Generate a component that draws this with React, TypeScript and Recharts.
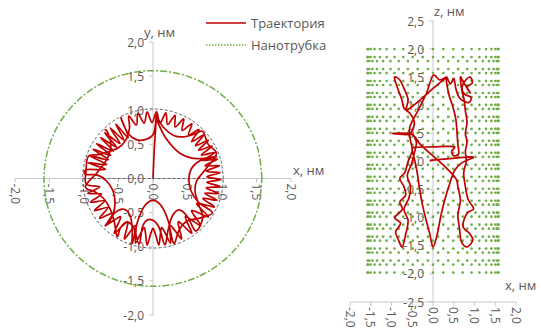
import React from "react";
import { ScatterChart, Scatter, XAxis, YAxis } from "recharts";

// tick values of the three axes
const xyTicks = [-2, -1.5, -1, -0.5, 0, 0.5, 1, 1.5, 2];
const xzTicks = [-2, -1.5, -1, -0.5, 0, 0.5, 1, 1.5, 2];
const zTicks = [-2.5, -2, -1.5, -1, -0.5, 0, 0.5, 1, 1.5, 2, 2.5];

// nanotube wall (xy projection)
const tubeCircle: [number, number][] = [
  [1.58, 0], [1.526, 0.409], [1.368, 0.79], [1.117, 1.117], [0.79, 1.368], [0.409, 1.526],
  [0, 1.58], [-0.409, 1.526], [-0.79, 1.368], [-1.117, 1.117], [-1.368, 0.79], [-1.526, 0.409],
  [-1.58, 0], [-1.526, -0.409], [-1.368, -0.79], [-1.117, -1.117], [-0.79, -1.368], [-0.409, -1.526],
  [0, -1.58], [0.409, -1.526], [0.79, -1.368], [1.117, -1.117], [1.368, -0.79], [1.526, -0.409], [1.58, 0],
];

// grey dashed circle + diameter
const innerCircle: [number, number][] = [
  [1.02, 0], [0.985, 0.264], [0.883, 0.51], [0.721, 0.721], [0.51, 0.883], [0.264, 0.985],
  [0, 1.02], [-0.264, 0.985], [-0.51, 0.883], [-0.721, 0.721], [-0.883, 0.51], [-0.985, 0.264],
  [-1.02, 0], [-0.985, -0.264], [-0.883, -0.51], [-0.721, -0.721], [-0.51, -0.883], [-0.264, -0.985],
  [0, -1.02], [0.264, -0.985], [0.51, -0.883], [0.721, -0.721], [0.883, -0.51], [0.985, -0.264], [1.02, 0],
];
const innerDiameter: [number, number][] = [[-1.02, 0], [1.02, 0]];

// trajectory, xy projection
const xyPath: [number, number][] = [
  [0, 0], [0.02, 0.45], [0.05, 0.92],
  [0.03, 0.75], [0, 0.64], [-0.08, 0.58], [-0.2, 0.56], [-0.3, 0.6], [-0.38, 0.69], [-0.44, 0.82], [-0.46, 0.88],
  [-0.36, 0.6], [-0.54, 0.8], [-0.42, 0.56], [-0.62, 0.74], [-0.477, 0.512], [-0.7, 0.67], [-0.529, 0.46],
  [-0.76, 0.6], [-0.573, 0.402], [-0.82, 0.51], [-0.613, 0.34], [-0.87, 0.43], [-0.645, 0.274], [-0.91, 0.33],
  [-0.67, 0.204], [-0.94, 0.23], [-0.687, 0.134], [-0.96, 0.13], [-0.98, 0.06],
  [-0.8, 0.05], [-0.67, -0.04], [-0.58, -0.18], [-0.55, -0.36], [-0.58, -0.53], [-0.64, -0.64], [-0.69, -0.69],
  [-0.554, -0.604], [-0.469, -0.559], [-0.499, -0.65], [-0.563, -0.803], [-0.44, -0.691], [-0.365, -0.632],
  [-0.379, -0.727], [-0.415, -0.888], [-0.314, -0.758], [-0.25, -0.686], [-0.247, -0.782], [-0.254, -0.947],
  [-0.177, -0.8], [-0.127, -0.719], [-0.107, -0.813], [-0.085, -0.976], [-0.036, -0.819], [0, -0.73],
  [0.036, -0.819], [0.085, -0.976], [0.107, -0.813], [0.127, -0.719], [0.177, -0.8], [0.254, -0.947],
  [0.247, -0.782], [0.25, -0.686], [0.314, -0.758], [0.415, -0.888], [0.379, -0.727], [0.365, -0.632],
  [0.44, -0.691], [0.563, -0.803], [0.499, -0.65], [0.469, -0.559], [0.554, -0.604], [0.693, -0.693],
  [0.604, -0.554], [0.559, -0.469], [0.65, -0.499], [0.803, -0.563], [0.691, -0.44], [0.632, -0.365],
  [0.727, -0.379], [0.888, -0.415],
  [0.72, -0.29], [0.927, -0.319], [0.75, -0.215], [0.955, -0.22], [0.77, -0.136], [0.973, -0.119],
  [0.78, -0.055], [0.98, -0.017], [0.78, 0.027], [0.976, 0.085], [0.77, 0.108], [0.962, 0.187],
  [0.755, 0.188], [0.937, 0.286], [0.73, 0.266], [0.902, 0.383], [0.7, 0.342], [0.857, 0.475],
  [0.66, 0.413], [0.803, 0.562], [0.615, 0.481], [0.74, 0.643], [0.56, 0.54], [0.668, 0.716],
  [0.516, 0.637], [0.563, 0.803], [0.422, 0.703], [0.445, 0.873], [0.321, 0.755], [0.319, 0.927],
  [0.212, 0.792], [0.187, 0.962], [0.1, 0.814], [0.051, 0.979], [-0.014, 0.82], [-0.085, 0.976],
  [-0.128, 0.81], [-0.22, 0.955], [-0.24, 0.784], [-0.351, 0.915],
  [-0.34, 0.74], [-0.39, 0.57], [-0.5, 0.45], [-0.65, 0.39], [-0.8, 0.35], [-0.94, 0.32], [-0.97, 0.12],
  [-0.966, -0.085], [-0.771, -0.122], [-0.945, -0.218], [-0.746, -0.228], [-0.906, -0.347], [-0.707, -0.33],
  [-0.849, -0.47], [-0.654, -0.425], [-0.775, -0.584], [-0.589, -0.512], [-0.686, -0.686],
  [-0.55, -0.5], [-0.42, -0.45], [-0.33, -0.55], [-0.3, -0.75], [-0.3, -0.95],
  [-0.22, -0.62], [-0.12, -0.4], [0, -0.32], [0.12, -0.4], [0.22, -0.62], [0.3, -0.95],
  [0.38, -0.75], [0.5, -0.62], [0.68, -0.58], [0.86, -0.5],
  [0.66, -0.35], [0.55, -0.18], [0.52, 0], [0.56, 0.15], [0.68, 0.26], [0.92, 0.32],
  [0.63, 0.29], [0.39, 0.37], [0.2, 0.57], [0.08, 0.8], [0.05, 0.92],
  [0.15, 0.75], [0.3, 0.63], [0.45, 0.61], [0.6, 0.65], [0.72, 0.69],
  [0.8, 0.5], [0.92, 0.36], [0.75, 0.12], [0.63, -0.04], [0.61, -0.2], [0.67, -0.4], [0.72, -0.58], [0.62, -0.77],
  [0.5, -0.56], [0.38, -0.46], [0.28, -0.55], [0.22, -0.75], [0.17, -0.97],
  [0.08, -0.7], [-0.05, -0.6], [-0.15, -0.7], [-0.2, -0.96],
  [-0.28, -0.72], [-0.38, -0.64], [-0.47, -0.72], [-0.52, -0.85],
  [-0.56, -0.64], [-0.62, -0.45], [-0.71, -0.3], [-0.83, -0.2], [-0.98, -0.12],
  [-0.8, 0.1], [-0.66, 0.3], [-0.61, 0.5], [-0.66, 0.68], [-0.7, 0.72],
];

// trajectory, xz projection
const xzPath: [number, number][] = [
  [-0.08, 0.02], [0.4, 0.05], [0.97, 0.08],
  [0.7, -0.02], [0.52, -0.16], [0.4, -0.4], [0.28, -0.69], [0.18, -1.0], [0.1, -1.3], [0, -1.52],
  [-0.08, -1.28], [-0.18, -1.0], [-0.26, -0.75], [-0.33, -0.45], [-0.38, -0.2], [-0.45, 0.05], [-0.5, 0.2],
  [-0.45, 0.25], [0, 0.26], [0.3, 0.27], [0.52, 0.26],
  [0.45, 0.18], [0.5, 0.1], [0.62, 0.14], [0.6, 0.3], [0.58, 0.5], [0.55, 0.75], [0.48, 0.97], [0.38, 1.2], [0.32, 1.5],
  [0.42, 1.38], [0.5, 1.48], [0.55, 1.3], [0.62, 1.15], [0.72, 1.08], [0.86, 1.05], [0.92, 1.14], [0.76, 1.2],
  [0.7, 1.32], [0.8, 1.46], [0.9, 1.5], [0.95, 1.4], [0.82, 1.32], [0.9, 1.22], [0.74, 1.4], [0.66, 1.5],
  [0.7, 1.25], [0.75, 1.1],
  [0.78, 0.9], [0.82, 0.7], [0.78, 0.5], [0.82, 0.35], [0.78, 0.18], [0.8, 0], [0.74, -0.2], [0.78, -0.45],
  [0.85, -0.68], [0.98, -0.84], [0.82, -0.92], [0.72, -1.15], [0.88, -1.28], [0.96, -1.4], [0.82, -1.52],
  [0.68, -1.42], [0.64, -1.2], [0.6, -0.95], [0.66, -0.7], [0.6, -0.45], [0.55, -0.3],
  [0.3, -0.1], [0, 0.1], [-0.3, 0.3], [-0.45, 0.45],
  [-0.6, 0.5], [-0.98, 0.5], [-0.6, 0.48], [-0.5, 0.55], [-0.45, 0.7], [-0.55, 0.85], [-0.7, 0.95],
  [-0.75, 1.1], [-0.85, 1.3], [-0.93, 1.5], [-0.8, 1.45], [-0.7, 1.3], [-0.6, 1.1], [-0.64, 0.91],
  [-0.3, 1.1], [0, 1.3], [0.32, 1.5], [0.16, 1.45], [0, 1.53], [-0.16, 1.21], [-0.36, 0.91], [-0.56, 0.61],
  [-0.55, 0.4], [-0.5, 0.2], [-0.6, 0], [-0.68, -0.2], [-0.8, -0.3], [-0.7, -0.45], [-0.66, -0.6],
  [-0.8, -0.72], [-0.74, -0.85], [-0.92, -1.0], [-0.78, -1.1], [-0.9, -1.25], [-0.84, -1.38], [-0.74, -1.52],
  [-0.66, -1.3], [-0.6, -1.05], [-0.7, -0.85], [-0.58, -0.65], [-0.54, -0.45], [-0.62, -0.25], [-0.52, -0.05],
  [-0.45, 0.15], [-0.4, 0.35], [-0.5, 0.5],
];

// nanotube atoms in xz projection: two ring types with staggered columns
const tubeColsA = [
  -1.58, -1.561, -1.503, -1.408, -1.278, -1.117, -0.929, -0.717, -0.488, -0.247, 0,
  0.247, 0.488, 0.717, 0.929, 1.117, 1.278, 1.408, 1.503, 1.561, 1.58,
];
const tubeColsB = [
  -1.575, -1.536, -1.46, -1.348, -1.201, -1.025, -0.825, -0.605, -0.368, -0.123,
  0.123, 0.368, 0.605, 0.825, 1.025, 1.201, 1.348, 1.46, 1.536, 1.575,
];
const tubeRowsA = [
  2.0, 1.858, 1.574, 1.432, 1.148, 1.006, 0.722, 0.58, 0.296, 0.154, -0.13, -0.272,
  -0.556, -0.698, -0.982, -1.124, -1.408, -1.55, -1.834, -1.976,
];
const tubeRowsB = [
  1.787, 1.645, 1.361, 1.219, 0.935, 0.793, 0.509, 0.367, 0.083, -0.059, -0.343, -0.485,
  -0.769, -0.911, -1.195, -1.337, -1.621, -1.763,
];

const RED = "#c00000";
const GREEN = "#70ad47";
const AXIS = "#c8c8c8";
const TEXT = "#595959";
const FONT = '"Open Sans", sans-serif';

const fmt = (v: number) => v.toFixed(1).replace(".", ",");
const pts = (a: [number, number][]) => a.map(([x, y]) => ({ x, y }));

const tubeDots = [
  ...tubeRowsA.flatMap((z) => tubeColsA.map((x) => ({ x, y: z }))),
  ...tubeRowsB.flatMap((z) => tubeColsB.map((x) => ({ x, y: z }))),
];

// Excel-style smoothed line (Catmull-Rom through every point)
function smooth(context: any) {
  let p: number[][] = [];
  return {
    areaStart() {},
    areaEnd() {},
    lineStart() {
      p = [];
    },
    point(x: number, y: number) {
      p.push([+x, +y]);
    },
    lineEnd() {
      const n = p.length;
      if (!n) return;
      context.moveTo(p[0][0], p[0][1]);
      for (let i = 0; i < n - 1; i++) {
        const a = p[Math.max(i - 1, 0)];
        const b = p[i];
        const c = p[i + 1];
        const d = p[Math.min(i + 2, n - 1)];
        context.bezierCurveTo(
          b[0] + (c[0] - a[0]) / 6,
          b[1] + (c[1] - a[1]) / 6,
          c[0] - (d[0] - b[0]) / 6,
          c[1] - (d[1] - b[1]) / 6,
          c[0],
          c[1],
        );
      }
    },
  };
}

const Empty = () => <g />;

function YTick(p: any) {
  const { cx, cy, payload } = p;
  return (
    <g>
      <line x1={cx - 4} y1={cy} x2={cx} y2={cy} stroke={AXIS} />
      <text x={cx - 9} y={cy} textAnchor="end" dominantBaseline="central" fontSize={12} fill={TEXT} fontFamily={FONT}>
        {payload.t}
      </text>
    </g>
  );
}

function XTick(p: any) {
  const { cx, cy, payload } = p;
  const ty = cy + 5;
  return (
    <g>
      <line x1={cx} y1={cy} x2={cx} y2={cy + 4} stroke={AXIS} />
      <text
        x={cx}
        y={ty}
        transform={`rotate(90 ${cx} ${ty})`}
        textAnchor="start"
        dominantBaseline="central"
        fontSize={12}
        fill={TEXT}
        fontFamily={FONT}
      >
        {payload.t}
      </text>
    </g>
  );
}

function Dot(p: any) {
  return <circle cx={p.cx} cy={p.cy} r={1.35} fill={GREEN} />;
}

function XYChart() {
  const lo = xyTicks[0];
  const hi = xyTicks[xyTicks.length - 1];
  return (
    <ScatterChart width={335} height={329} margin={{ top: 42, right: 44, bottom: 14, left: 15 }}>
      <XAxis type="number" dataKey="x" domain={[lo, hi]} hide />
      <YAxis type="number" dataKey="y" domain={[lo, hi]} hide />
      <Scatter data={[{ x: lo, y: 0 }, { x: hi, y: 0 }]} line={{ stroke: AXIS, strokeWidth: 1 }} lineType="joint" shape={Empty} isAnimationActive={false} />
      <Scatter data={[{ x: 0, y: lo }, { x: 0, y: hi }]} line={{ stroke: AXIS, strokeWidth: 1 }} lineType="joint" shape={Empty} isAnimationActive={false} />
      <Scatter data={xyTicks.map((v) => ({ x: 0, y: v, t: fmt(v) }))} shape={YTick} isAnimationActive={false} />
      <Scatter data={xyTicks.map((v) => ({ x: v, y: 0, t: fmt(v) }))} shape={XTick} isAnimationActive={false} />
      <Scatter data={pts(tubeCircle)} line={{ stroke: GREEN, strokeWidth: 1.5, strokeDasharray: "7 2 2 2" }} lineType="joint" lineJointType={smooth as any} shape={Empty} isAnimationActive={false} />
      <Scatter data={pts(innerCircle)} line={{ stroke: "#666", strokeWidth: 1, strokeDasharray: "3 2" }} lineType="joint" lineJointType={smooth as any} shape={Empty} isAnimationActive={false} />
      <Scatter data={pts(innerDiameter)} line={{ stroke: "#666", strokeWidth: 1, strokeDasharray: "3 2" }} lineType="joint" shape={Empty} isAnimationActive={false} />
      <Scatter data={pts(xyPath)} line={{ stroke: RED, strokeWidth: 1.7 }} lineType="joint" lineJointType={smooth as any} shape={Empty} isAnimationActive={false} />
    </ScatterChart>
  );
}

function XZChart() {
  const xlo = xzTicks[0];
  const xhi = xzTicks[xzTicks.length - 1];
  const zlo = zTicks[0];
  const zhi = zTicks[zTicks.length - 1];
  return (
    <ScatterChart width={206} height={329} margin={{ top: 21, right: 25, bottom: 27, left: 15 }}>
      <XAxis type="number" dataKey="x" domain={[xlo, xhi]} hide />
      <YAxis type="number" dataKey="y" domain={[zlo, zhi]} hide />
      <Scatter data={[{ x: xlo, y: zlo }, { x: xhi, y: zlo }]} line={{ stroke: AXIS, strokeWidth: 1 }} lineType="joint" shape={Empty} isAnimationActive={false} />
      <Scatter data={[{ x: 0, y: zlo }, { x: 0, y: zhi }]} line={{ stroke: AXIS, strokeWidth: 1 }} lineType="joint" shape={Empty} isAnimationActive={false} />
      <Scatter data={zTicks.map((v) => ({ x: 0, y: v, t: fmt(v) }))} shape={YTick} isAnimationActive={false} />
      <Scatter data={xzTicks.map((v) => ({ x: v, y: zlo, t: fmt(v) }))} shape={XTick} isAnimationActive={false} />
      <Scatter data={tubeDots} shape={Dot} isAnimationActive={false} />
      <Scatter data={pts(xzPath)} line={{ stroke: RED, strokeWidth: 1.7 }} lineType="joint" lineJointType={smooth as any} shape={Empty} isAnimationActive={false} />
    </ScatterChart>
  );
}

const abs = (left: number, top: number): React.CSSProperties => ({ position: "absolute", left, top });

export default function App() {
  const title: React.CSSProperties = { fontFamily: FONT, fontSize: 13, color: TEXT, whiteSpace: "nowrap", lineHeight: "16px" };
  return (
    <div style={{ position: "absolute", left: 0, top: 0, width: 541, height: 329, background: "#fff", overflow: "hidden" }}>
      <div style={abs(0, 0)}>
        <XYChart />
      </div>
      <div style={abs(335, 0)}>
        <XZChart />
      </div>
      <div style={{ ...abs(144, 24), ...title }}>y, нм</div>
      <div style={{ ...abs(293, 162), ...title }}>x, нм</div>
      <div style={{ ...abs(434, 3), ...title }}>z, нм</div>
      <div style={{ ...abs(505, 277), ...title }}>x, нм</div>
      <div style={{ ...abs(206, 12), ...title }}>
        <div style={{ display: "flex", alignItems: "center", height: 22 }}>
          <svg width={42} height={4} style={{ marginRight: 3 }}>
            <line x1={0} y1={2} x2={40} y2={2} stroke={RED} strokeWidth={1.5} />
          </svg>
          <span>Траектория</span>
        </div>
        <div style={{ display: "flex", alignItems: "center", height: 22 }}>
          <svg width={42} height={4} style={{ marginRight: 3 }}>
            <line x1={0} y1={2} x2={40} y2={2} stroke={GREEN} strokeWidth={1.5} strokeDasharray="1.5 1.5" />
          </svg>
          <span>Нанотрубка</span>
        </div>
      </div>
    </div>
  );
}
